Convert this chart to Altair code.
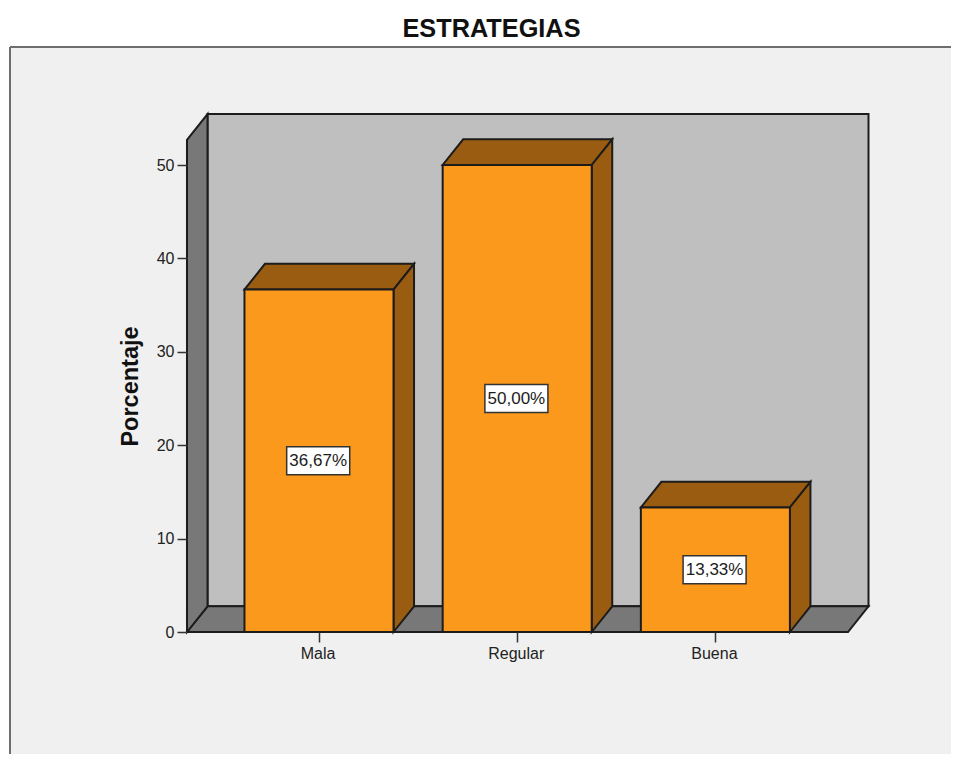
import altair as alt
import pandas as pd

categories = ["Mala", "Regular", "Buena"]
values = [36.67, 50.00, 13.33]
labels = ["36,67%", "50,00%", "13,33%"]
y_ticks = [0, 10, 20, 30, 40, 50]

FONT = "Liberation Sans"
HALF = 0.376      # half bar width, in category units
DX = 0.1035       # depth, in category units
DY = 2.75         # depth, in percent units
LEFT, RIGHT = -0.666, 2.669
TOP = 52.7
BOX_W, BOX_H = 0.159, 1.5

W, H = 941, 707
X_SCALE = alt.Scale(domain=[-1.559, -1.559 + W / 198.2], nice=False, zero=False)
Y_SCALE = alt.Scale(domain=[(632 - 47 - H) / 9.34, (632 - 47) / 9.34], nice=False, zero=False)
STROKE = {"stroke": "#1c1c1c", "strokeWidth": 2, "strokeJoin": "miter"}

label_expr = "datum.value == 0 ? 'Mala' : datum.value == 1 ? 'Regular' : 'Buena'"
X_AXIS = alt.Axis(
    orient="bottom", offset=-(47 + H - 632), values=[0, 1, 2], labelExpr=label_expr, title=None,
    domain=False, grid=False, tickSize=10, tickWidth=1.5, tickColor="#333333", zindex=1,
    labelFont=FONT, labelFontSize=16, labelColor="#222222", labelPadding=3, labelOffset=-1.5)
Y_AXIS = alt.Axis(
    orient="left", offset=-177, values=y_ticks, title="Porcentaje",
    domain=False, grid=False, tickSize=10, tickWidth=1.5, tickColor="#333333", zindex=1,
    labelFont=FONT, labelFontSize=16, labelColor="#222222", labelPadding=3,
    titleFont=FONT, titleFontSize=23.5, titleFontWeight="bold", titleColor="#111111",
    titleX=-45, titleY=339)
X = alt.X("x:Q", scale=X_SCALE, axis=X_AXIS)
Y = alt.Y("y:Q", scale=Y_SCALE, axis=Y_AXIS)


def faces(rows):
    return pd.DataFrame(rows, columns=["face", "x", "y", "y2"])


def area_layer(rows, fill):
    return alt.Chart(faces(rows)).mark_area(fill=fill, interpolate="linear", **STROKE).encode(
        x=X, y=Y, y2="y2:Q", detail="face:N")


def rect_layer(df, fill, **extra):
    return alt.Chart(df).mark_rect(fill=fill, **extra).encode(x=X, x2="x2:Q", y=Y, y2="y2:Q")


top_edge = alt.Chart(pd.DataFrame({"a": [0]})).mark_rule(color="#6e6e6e", strokeWidth=2).encode(
    x=alt.value(0), x2=alt.value(W), y=alt.value(0))
left_edge = alt.Chart(pd.DataFrame({"a": [0]})).mark_rule(color="#6e6e6e", strokeWidth=2).encode(
    x=alt.value(0), y=alt.value(0), y2=alt.value(H))

wall = rect_layer(
    pd.DataFrame([{"x": LEFT + DX, "x2": RIGHT + DX, "y": DY, "y2": TOP + DY}]),
    "#bfbfbf", **STROKE)
floor = area_layer(
    [("f", LEFT, 0, 0), ("f", LEFT + DX, 0, DY), ("f", RIGHT, 0, DY), ("f", RIGHT + DX, DY, DY)],
    "#787878")
side = area_layer(
    [("s", LEFT, 0, TOP), ("s", LEFT + DX, DY, TOP + DY)],
    "#787878")

front_df = pd.DataFrame(
    {"x": [i - HALF for i in range(3)], "x2": [i + HALF for i in range(3)],
     "y": [0, 0, 0], "y2": values})
front = rect_layer(front_df, "#fb991c", **STROKE)

top_rows, right_rows = [], []
for i, v in enumerate(values):
    a, b = i - HALF, i + HALF
    top_rows += [(i, a, v, v), (i, a + DX, v, v + DY), (i, b, v, v + DY), (i, b + DX, v + DY, v + DY)]
    right_rows += [(i, b, 0, v), (i, b + DX, DY, v + DY)]
tops = area_layer(top_rows, "#9a5c11")
rights = area_layer(right_rows, "#9a5c11")

box_df = pd.DataFrame(
    {"x": [i - BOX_W - 0.004 for i in range(3)], "x2": [i + BOX_W - 0.004 for i in range(3)],
     "y": [v / 2 - BOX_H for v in values], "y2": [v / 2 + BOX_H for v in values]})
boxes = rect_layer(box_df, "#ffffff", stroke="#333333", strokeWidth=1.5)

text_df = pd.DataFrame({"x": [i - 0.004 for i in range(3)], "y": [v / 2 for v in values], "label": labels})
texts = alt.Chart(text_df).mark_text(font=FONT, fontSize=17, color="#1c1c1c").encode(
    x=X, y=Y, text="label:N")

chart = alt.layer(top_edge, left_edge, wall, floor, side, tops, rights, front, boxes, texts).properties(
    width=W, height=H,
    padding={"left": 2, "top": 39, "right": 0, "bottom": 0},
    autosize=alt.AutoSizeParams(type="none"),
    background="#ffffff",
    title=alt.TitleParams("ESTRATEGIAS", font=FONT, fontSize=25.3, fontWeight="bold",
                          color="#111111", anchor="middle", dx=11, offset=4),
).configure_view(fill="#f0f0f0", stroke=None)

chart.save("out.html", embed_options={"renderer": "svg", "actions": False})
